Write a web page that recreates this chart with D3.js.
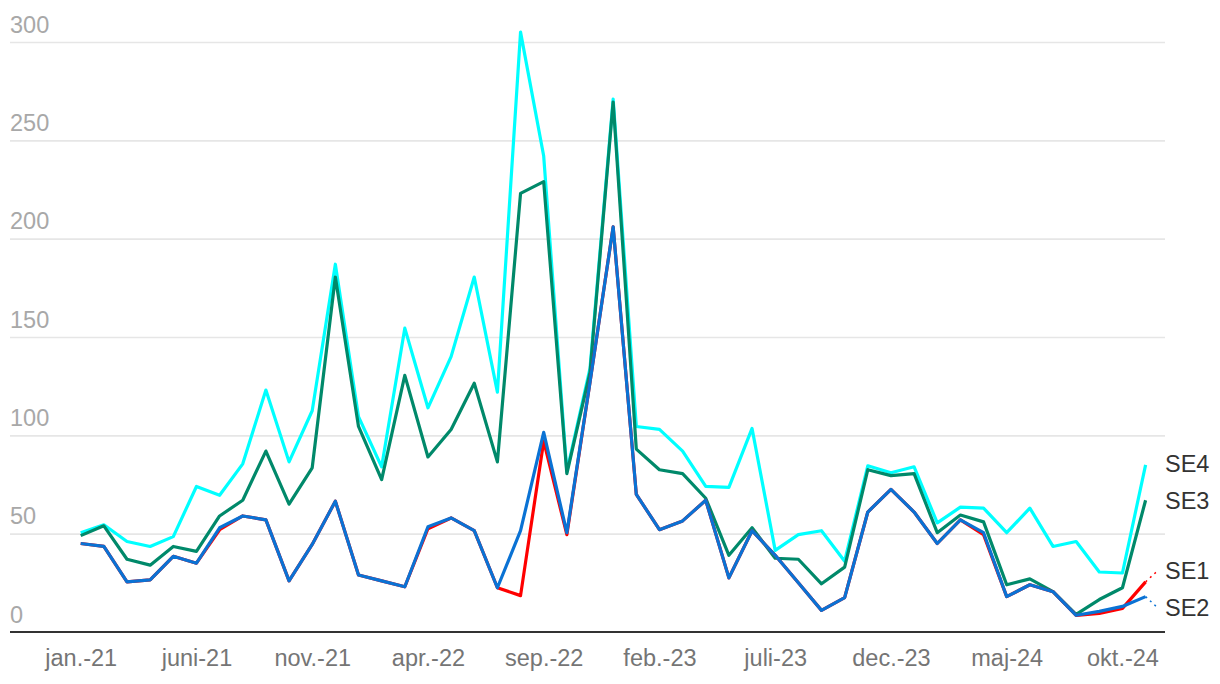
<!DOCTYPE html>
<html>
<head>
<meta charset="utf-8">
<script src="https://cdn.jsdelivr.net/npm/d3@7"></script>
<style>
  html, body { margin: 0; padding: 0; background: #fff; }
  svg { display: block; font-family: "Liberation Sans", Arial, sans-serif; }
</style>
</head>
<body>
<svg id="chart" width="1220" height="684"></svg>
<script>
// ---- data ----
const monthNames = ["jan.", "feb.", "mar.", "apr.", "maj", "juni", "juli", "aug.", "sep.", "okt.", "nov.", "dec."];
const years = ["21", "22", "23", "24"];
const months = [];
years.forEach(y => monthNames.forEach(m => months.push(m + "-" + y)));
months.splice(47); // jan.-21 .. nov.-24

const tickLabels = ["jan.-21", "juni-21", "nov.-21", "apr.-22", "sep.-22", "feb.-23", "juli-23", "dec.-23", "maj-24", "okt.-24"];
const yTicks = [0, 50, 100, 150, 200, 250, 300];

const se4 = [50.5, 54.5, 46, 43.5, 48.5, 74, 69.5, 85.5, 123, 86.5, 112.5, 187, 109.5, 84, 154.5, 114, 140, 180.5, 122, 305, 242, 81.5, 134, 271, 104.5, 103, 92, 74, 73.5, 103.5, 41.5, 49.5, 51.5, 36, 84.5, 81, 84, 55.5, 63.5, 63, 50.5, 63, 43.5, 46, 30.5, 30, 85];
const se3 = [49, 54, 37, 34, 43.5, 41, 59, 67, 92, 65, 83.5, 180.5, 104.5, 77.5, 130.5, 89, 103, 126.5, 86.5, 223, 229, 80.5, 132, 269.5, 93, 82.5, 80.5, 68, 39, 53, 37.5, 37, 24.5, 33, 82.5, 79.5, 80.5, 50.5, 59.5, 56, 24, 27, 20.5, 9, 16.5, 22.5, 67];
const se2 = [45, 43.5, 25.5, 26.5, 38.5, 35, 53, 59, 57, 26, 44.5, 66.5, 29, 26, 23, 53.5, 58, 51.5, 22.5, 51.5, 101.5, 50.5, 127, 206, 70, 52, 56.5, 67, 27.5, 51.5, 39, 25, 11, 17.5, 61, 72.5, 61, 45, 57, 50.5, 18, 24, 20.5, 8.5, 10.5, 13, 18];
const se1 = [45, 43.5, 25.5, 26.5, 38.5, 35, 52, 59, 57, 26, 44.5, 66.5, 29, 26, 23, 52.5, 58, 51.5, 22.5, 18.5, 97, 49.5, 127, 206, 70, 52, 56.5, 67, 27.5, 51.5, 39, 25, 11, 17.5, 61, 72.5, 61, 45, 57, 49.5, 18, 24, 20.5, 8.5, 9.5, 12, 25.5];

const seriesNames = ["SE4", "SE3", "SE1", "SE2"];
const seriesData = [se4, se3, se1, se2];
const seriesColors = ["#00ffff", "#00896a", "#ff0000", "#0a72d4"];

// ---- layout ----
const svg = d3.select("#chart");
const x = d3.scalePoint().domain(months).range([80.7, 1145.6]);
const y = d3.scaleLinear().domain([0, 300]).range([632, 42]);
const gridLeft = 10, gridRight = 1165;

// gridlines + y labels
const yAxis = d3.axisLeft(y).tickValues(yTicks).tickSize(0).tickFormat(d3.format("d"));
const gy = svg.append("g").call(yAxis);
gy.select(".domain").remove();
gy.selectAll(".tick line")
  .attr("x1", gridLeft).attr("x2", gridRight)
  .attr("stroke", d => d === 0 ? "none" : "#e6e6e6")
  .attr("stroke-width", 1.6);
gy.selectAll(".tick text")
  .attr("x", gridLeft).attr("dy", null).attr("y", -10)
  .attr("text-anchor", "start")
  .attr("fill", "#a8a8a8")
  .style("font-size", "23.5px");

// x axis
const xAxis = d3.axisBottom(x).tickValues(tickLabels).tickSize(0);
const gx = svg.append("g").attr("transform", "translate(0,632)").call(xAxis);
gx.select(".domain").remove();
gx.selectAll(".tick text")
  .attr("dy", null).attr("y", 34)
  .attr("fill", "#757575")
  .style("font-size", "23.5px")
  .style("font-family", "'Liberation Sans', Arial, sans-serif");
svg.append("line")
  .attr("x1", gridLeft).attr("x2", gridRight)
  .attr("y1", y(0)).attr("y2", y(0))
  .attr("stroke", "#333").attr("stroke-width", 2);

// lines
const line = d3.line().x((d, i) => x(months[i])).y(d => y(d));
seriesData.forEach((s, k) => {
  svg.append("path")
    .datum(s)
    .attr("fill", "none")
    .attr("stroke", seriesColors[k])
    .attr("stroke-width", 3.2)
    .attr("stroke-linejoin", "round")
    .attr("d", line);
});

// end labels with collision avoidance
const last = months.length - 1;
let labels = seriesNames.map((n, k) => ({ name: n, color: seriesColors[k], py: y(seriesData[k][last]) }));
labels.forEach(l => l.ly = l.py);
labels.sort((a, b) => a.ly - b.ly);
const gap = 37;
for (let it = 0; it < 50; it++) {
  for (let i = 1; i < labels.length; i++) {
    const a = labels[i - 1], b = labels[i];
    const d = b.ly - a.ly;
    if (d < gap) {
      const shift = (gap - d) / 2;
      a.ly -= shift; b.ly += shift;
    }
  }
}
const lx = x(months[last]);
labels.forEach(l => {
  if (Math.abs(l.ly - l.py) > 3) {
    svg.append("line")
      .attr("x1", lx).attr("y1", l.py)
      .attr("x2", lx + 12).attr("y2", l.ly)
      .attr("stroke", l.color).attr("stroke-width", 1.5)
      .attr("stroke-dasharray", "2,4");
  }
  svg.append("text")
    .attr("x", 1165).attr("y", l.ly + 8)
    .attr("fill", "#333")
    .style("font-size", "23.5px")
    .text(l.name);
});
</script>
</body>
</html>
